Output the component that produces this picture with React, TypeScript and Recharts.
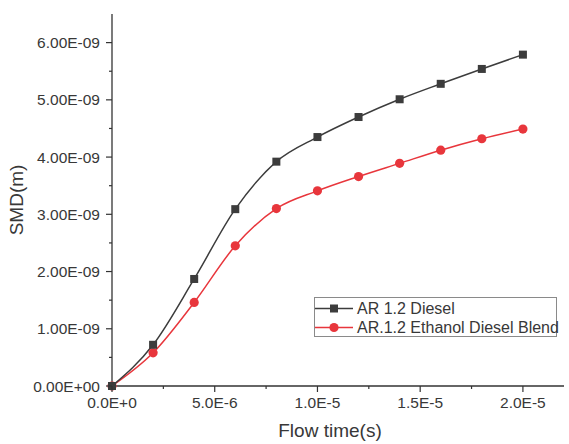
import React from 'react';
import { LineChart, Line, XAxis, YAxis, Legend, Label } from 'recharts';

// flow time (s) and SMD (m)
const times = [0, 2e-6, 4e-6, 6e-6, 8e-6, 1e-5, 1.2e-5, 1.4e-5, 1.6e-5, 1.8e-5, 2e-5];
const diesel = [0, 0.72e-9, 1.87e-9, 3.09e-9, 3.92e-9, 4.35e-9, 4.7e-9, 5.01e-9, 5.28e-9, 5.54e-9, 5.79e-9];
const blend = [0, 0.58e-9, 1.46e-9, 2.45e-9, 3.1e-9, 3.41e-9, 3.66e-9, 3.89e-9, 4.12e-9, 4.32e-9, 4.49e-9];

const xMajor = [0, 5e-6, 1e-5, 1.5e-5, 2e-5];
const xTicks = [0, 2.5e-6, 5e-6, 7.5e-6, 1e-5, 1.25e-5, 1.5e-5, 1.75e-5, 2e-5];
const yMajor = [0, 1e-9, 2e-9, 3e-9, 4e-9, 5e-9, 6e-9];
const yTicks = [0, 0.5e-9, 1e-9, 1.5e-9, 2e-9, 2.5e-9, 3e-9, 3.5e-9, 4e-9, 4.5e-9, 5e-9, 5.5e-9, 6e-9];

const seriesNames = ['AR 1.2 Diesel', 'AR.1.2 Ethanol Diesel Blend'];

const data = times.map((t, i) => ({ t, diesel: diesel[i], blend: blend[i] }));

const FONT = '"Liberation Sans", Arial, sans-serif';
const TEXT = '#383838';
const AXIS = '#333';
const BLACK = '#3c3c3c';
const RED = '#e8363c';

const isMajor = (list: number[], v: number) => list.some((m) => Math.abs(m - v) < 1e-15);

const fmtY = (v: number) => {
  const [m, e] = v.toExponential(2).toUpperCase().split('E');
  const sign = e.startsWith('-') ? '-' : '+';
  const digits = e.replace(/[-+]/, '').padStart(2, '0');
  return `${m}E${sign}${digits}`;
};

const fmtX = (v: number) => v.toExponential(1).toUpperCase();

const XTick = (props: any) => {
  const { x, y, payload } = props;
  const axisY = y - 11;
  const major = isMajor(xMajor, payload.value);
  return (
    <g>
      <line x1={x} x2={x} y1={axisY} y2={axisY + (major ? 6 : 3)} stroke={AXIS} strokeWidth={1.2} />
      {major && (
        <text x={x} y={y} dy="0.71em" textAnchor="middle" fill={TEXT} fontSize={15.5} fontFamily={FONT}>
          {fmtX(payload.value)}
        </text>
      )}
    </g>
  );
};

const YTick = (props: any) => {
  const { x, y, payload } = props;
  const axisX = x + 12;
  const major = isMajor(yMajor, payload.value);
  return (
    <g>
      <line x1={axisX} x2={axisX - (major ? 6 : 3)} y1={y} y2={y} stroke={AXIS} strokeWidth={1.2} />
      {major && (
        <text x={x} y={y} dy="0.36em" textAnchor="end" fill={TEXT} fontSize={15.5} fontFamily={FONT}>
          {fmtY(payload.value)}
        </text>
      )}
    </g>
  );
};

const SquareDot = (props: any) => {
  const { cx, cy } = props;
  if (cx == null || cy == null) return null;
  return <rect x={cx - 4} y={cy - 4} width={8} height={8} fill={BLACK} />;
};

const RoundDot = (props: any) => {
  const { cx, cy } = props;
  if (cx == null || cy == null) return null;
  return <circle cx={cx} cy={cy} r={4.6} fill={RED} />;
};

const LegendBox = () => (
  <div
    style={{
      border: '1px solid #8a8a8a',
      width: 243,
      height: 40,
      padding: '1px 0 0 0',
      fontFamily: FONT,
      fontSize: 16,
      color: TEXT,
      background: '#fff',
      boxSizing: 'border-box'
    }}
  >
    {seriesNames.map((name, i) => (
      <div key={name} style={{ display: 'flex', alignItems: 'center', height: 19 }}>
        <svg width={40} height={19} style={{ flex: 'none' }}>
          <line x1={0} x2={38} y1={9.5} y2={9.5} stroke={i === 0 ? BLACK : RED} strokeWidth={1.5} />
          {i === 0 ? (
            <rect x={15} y={5.5} width={8} height={8} fill={BLACK} />
          ) : (
            <circle cx={19} cy={9.5} r={4.6} fill={RED} />
          )}
        </svg>
        <span style={{ marginLeft: 2, whiteSpace: 'nowrap' }}>{name}</span>
      </div>
    ))}
  </div>
);

export default function App() {
  return (
    <div style={{ position: 'absolute', left: 0, top: 0, width: 569, height: 444, background: '#fff' }}>
      <LineChart
        width={569}
        height={444}
        data={data}
        margin={{ top: 14, right: 5, bottom: 0, left: 0 }}
      >
        <XAxis
          dataKey="t"
          type="number"
          domain={[0, 2.2e-5]}
          ticks={xTicks}
          tick={<XTick />}
          tickLine={false}
          tickSize={6}
          tickMargin={5}
          interval={0}
          height={58}
          axisLine={{ stroke: AXIS, strokeWidth: 1.3 }}
        >
          <Label
            content={() => (
              <text x={330} y={432} textAnchor="middle" dominantBaseline="middle" fill={TEXT} fontSize={19} fontFamily={FONT}>
                Flow time(s)
              </text>
            )}
          />
        </XAxis>
        <YAxis
          type="number"
          domain={[0, 6.5e-9]}
          ticks={yTicks}
          tick={<YTick />}
          tickLine={false}
          tickSize={6}
          tickMargin={6}
          interval={0}
          width={112}
          axisLine={{ stroke: AXIS, strokeWidth: 1.3 }}
        >
          <Label
            content={() => (
              <text
                x={18}
                y={200}
                transform="rotate(-90 18 200)"
                textAnchor="middle"
                dominantBaseline="middle"
                fill={TEXT}
                fontSize={19}
                fontFamily={FONT}
              >
                SMD(m)
              </text>
            )}
          />
        </YAxis>
        <Legend
          layout="vertical"
          align="center"
          verticalAlign="middle"
          content={<LegendBox />}
          wrapperStyle={{ left: 314, top: 297, width: 245, height: 42 }}
        />
        <Line
          type="monotone"
          dataKey="blend"
          name={seriesNames[1]}
          stroke={RED}
          strokeWidth={1.5}
          dot={<RoundDot />}
          activeDot={false}
          isAnimationActive={false}
        />
        <Line
          type="monotone"
          dataKey="diesel"
          name={seriesNames[0]}
          stroke={BLACK}
          strokeWidth={1.5}
          dot={<SquareDot />}
          activeDot={false}
          isAnimationActive={false}
        />
      </LineChart>
    </div>
  );
}
